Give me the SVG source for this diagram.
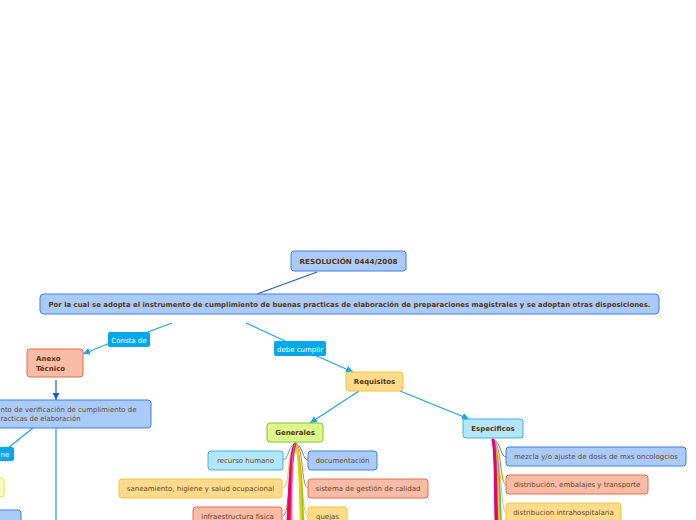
<svg xmlns="http://www.w3.org/2000/svg" width="696" height="520" viewBox="0 0 696 520">
<style>
text{font-family:"DejaVu Sans","Verdana",sans-serif;font-size:7px;fill:#6a4526}
.b{font-weight:bold;fill:#5a3510}
.lbl text{fill:#ffffff}
.blue{fill:#a9cbfa;stroke:#3f7fe0;stroke-width:1}
.sal{fill:#f8bba6;stroke:#ec6a48;stroke-width:1}
.yel{fill:#fddb8b;stroke:#f6c137;stroke-width:1}
.cyan{fill:#b2e6fa;stroke:#3db2ea;stroke-width:1}
.grn{fill:#d9f98a;stroke:#8cc226;stroke-width:1}
.pyel{fill:#fdf8c0;stroke:#ede041;stroke-width:1}
.lab{fill:#03a7eb;stroke:none}
.ln{fill:none;stroke:#18a6ea;stroke-width:1.2}
.dk{fill:none;stroke:#1a5fd2;stroke-width:1.2}
.br{fill:none;stroke-linecap:round}
</style>
<defs>
<marker id="ac" markerUnits="userSpaceOnUse" markerWidth="8" markerHeight="8" refX="7" refY="4" orient="auto"><path d="M0,0.5 L7,4 L0,7.5 z" fill="#18a6ea"/></marker>
<marker id="ad" markerUnits="userSpaceOnUse" markerWidth="8" markerHeight="8" refX="7" refY="4" orient="auto"><path d="M0,0.5 L7,4 L0,7.5 z" fill="#1a5fd2"/></marker>
</defs>
<rect width="696" height="520" fill="#ffffff"/>

<g id="connectors">
<path class="dk" d="M317,272 L257,294"/>
<path class="ln" d="M172,323 L129,339"/>
<path class="ln" d="M115,341 L83,354" marker-end="url(#ac)"/>
<path class="ln" d="M246,323 L300,348"/>
<path class="ln" d="M310,353 L353,372" marker-end="url(#ac)"/>
<path class="dk" d="M56,380 L56,400" marker-end="url(#ad)"/>
<path class="ln" d="M359,391 L310,423" marker-end="url(#ac)"/>
<path class="ln" d="M400,391 L469,419" marker-end="url(#ac)"/>
<path class="ln" d="M33,428 L8,448"/>
<path class="ln" d="M56,428 L56,520" stroke="#38b4f0"/>
<!-- Generales branches -->
<path class="br" stroke="#3db2ea" stroke-width="1" d="M294,445 C288,445 289,460 283,460"/>
<path class="br" stroke="#3f7fe0" stroke-width="1" d="M297,445 C303,445 302,460 308,460"/>
<path class="br" stroke="#f6c137" stroke-width="1" d="M294,445 C287,452 290,488 283,488"/>
<path class="br" stroke="#ec6a48" stroke-width="1" d="M297,445 C304,452 301,488 308,488"/>
<path class="br" stroke="#ec6a48" stroke-width="1" d="M294,446 C288,465 290,516 283,516"/>
<path class="br" stroke="#f6c137" stroke-width="1" d="M297,446 C303,465 301,516 308,516"/>
<path class="br" stroke="#3f7fe0" stroke-width="1.5" d="M295,444 C301,452 300,490 301,520"/>
<path class="br" stroke="#8cc226" stroke-width="2" d="M295,444 C301,455 302,490 303,520"/>
<path class="br" stroke="#e8d000" stroke-width="2.5" d="M296,444 C300,455 300,490 301,520"/>
<path class="br" stroke="#ec2a2a" stroke-width="2.5" d="M295,444 C291,455 291,490 290,520"/>
<path class="br" stroke="#e8007a" stroke-width="3" d="M295,444 C290,455 290,490 288,520"/>
<path class="br" stroke="#ff6a9a" stroke-width="1" d="M295,444 C291,455 292,490 292,520"/>
<!-- Especificos branches -->
<path class="br" stroke="#3f7fe0" stroke-width="1" d="M494,440 C501,442 500,457 506,457"/>
<path class="br" stroke="#ec6a48" stroke-width="1" d="M494,440 C502,448 500,485 506,485"/>
<path class="br" stroke="#f6c137" stroke-width="1" d="M494,440 C502,452 500,513 506,513"/>
<path class="br" stroke="#3db2ea" stroke-width="1.5" d="M493,440 C499,450 500,490 501,520"/>
<path class="br" stroke="#8cc226" stroke-width="1.5" d="M493,440 C498,450 499,490 500,520"/>
<path class="br" stroke="#e8d000" stroke-width="2" d="M493,440 C497,450 498,490 499,520"/>
<path class="br" stroke="#ec2a2a" stroke-width="2.5" d="M493,440 C496,450 496,490 497,520"/>
<path class="br" stroke="#e8007a" stroke-width="3" d="M493,440 C496,450 495,490 496,520"/>
</g>

<g id="root"><rect class="blue" x="291" y="251" width="115" height="20" rx="3"/><text class="b" x="348.5" y="263.5" text-anchor="middle" textLength="98" lengthAdjust="spacingAndGlyphs">RESOLUCIÓN 0444/2008</text></g>
<g id="main"><rect class="blue" x="40" y="294" width="619" height="20" rx="4"/><text class="b" x="349.5" y="306.5" text-anchor="middle" textLength="602" lengthAdjust="spacingAndGlyphs">Por la cual se adopta el instrumento de cumplimiento de buenas practicas de elaboración de preparaciones magistrales y se adoptan otras disposiciones.</text></g>

<g id="lbl-consta" class="lbl"><rect class="lab" x="108" y="332" width="42" height="15" rx="2"/><text x="129" y="342.5" text-anchor="middle">Consta de</text></g>
<g id="lbl-debe" class="lbl"><rect class="lab" x="274" y="341" width="52" height="15" rx="2"/><text x="300" y="351.5" text-anchor="middle">debe cumplir</text></g>
<g id="lbl-contiene" class="lbl"><rect class="lab" x="-30" y="447" width="44" height="14" rx="2"/><text x="0.5" y="457">ne</text></g>

<g id="anexo"><rect class="sal" x="27" y="349" width="56" height="28" rx="3"/><text class="b" x="36" y="361">Anexo</text><text class="b" x="36" y="370.5">Técnico</text></g>
<g id="instrumento"><rect class="blue" x="-40" y="400" width="191" height="28" rx="3"/><text x="0.5" y="411.5" textLength="136" lengthAdjust="spacingAndGlyphs">nto de verificación de cumplimiento de</text><text x="0.5" y="421" textLength="80" lengthAdjust="spacingAndGlyphs">racticas de elaboración</text></g>
<g id="left-yellow"><rect class="pyel" x="-40" y="478" width="44" height="19" rx="3"/></g>
<g id="left-blue"><rect class="blue" x="-40" y="510" width="61" height="20" rx="3"/></g>

<g id="requisitos"><rect class="yel" x="346" y="372" width="57" height="19" rx="3"/><text class="b" x="374.5" y="384" text-anchor="middle">Requisitos</text></g>
<g id="generales"><rect class="grn" x="267" y="423" width="56" height="19" rx="3"/><text class="b" x="295" y="435" text-anchor="middle">Generales</text></g>
<g id="especificos"><rect class="cyan" x="463" y="419" width="60" height="19" rx="3"/><text class="b" x="493" y="431" text-anchor="middle">Especificos</text></g>

<g id="recurso"><rect class="cyan" x="208" y="451" width="75" height="19" rx="3"/><text x="245.5" y="463" text-anchor="middle">recurso humano</text></g>
<g id="documentacion"><rect class="blue" x="308" y="451" width="69" height="19" rx="3"/><text x="342.5" y="463" text-anchor="middle">documentación</text></g>
<g id="saneamiento"><rect class="yel" x="119" y="479" width="163" height="19" rx="3"/><text x="200.5" y="491" text-anchor="middle">saneamiento, higiene y salud ocupacional</text></g>
<g id="sistema"><rect class="sal" x="308" y="479" width="120" height="19" rx="3"/><text x="368" y="491" text-anchor="middle">sistema de gestión de calidad</text></g>
<g id="infraestructura"><rect class="sal" x="193" y="507" width="89" height="20" rx="3"/><text x="237.5" y="519" text-anchor="middle">infraestructura física</text></g>
<g id="quejas"><rect class="yel" x="308" y="507" width="39" height="20" rx="3"/><text x="327.5" y="519" text-anchor="middle">quejas</text></g>

<g id="mezcla"><rect class="blue" x="506" y="447" width="180" height="19" rx="3"/><text x="596" y="459" text-anchor="middle">mezcla y/o ajuste de dosis de mxs oncologcios</text></g>
<g id="distribucion"><rect class="sal" x="506" y="475" width="142" height="19" rx="3"/><text x="577" y="487" text-anchor="middle">distribución, embalajes y transporte</text></g>
<g id="intrahospitalaria"><rect class="yel" x="506" y="503" width="115" height="20" rx="3"/><text x="563.5" y="515" text-anchor="middle">distribucion intrahospitalaria</text></g>
</svg>
